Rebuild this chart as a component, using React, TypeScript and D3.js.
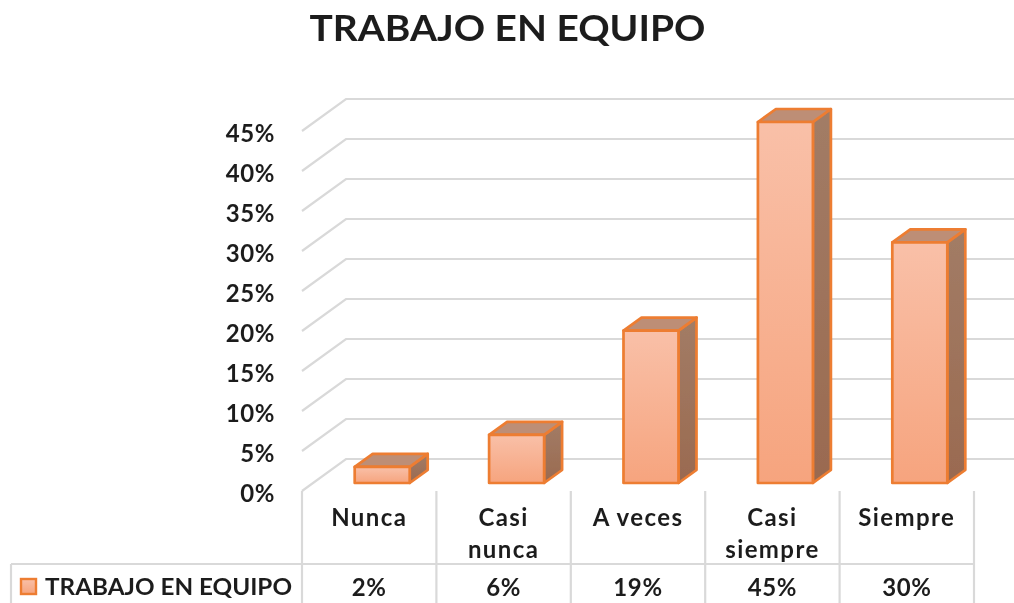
import React from 'react';
import * as d3 from 'd3';

const title = 'TRABAJO EN EQUIPO';
const categories = ['Nunca', 'Casi nunca', 'A veces', 'Casi siempre', 'Siempre'];
const categoryLines = [['Nunca'], ['Casi', 'nunca'], ['A veces'], ['Casi', 'siempre'], ['Siempre']];
const values = [2, 6, 19, 45, 30];
const yTicks = [0, 5, 10, 15, 20, 25, 30, 35, 40, 45];
const seriesName = 'TRABAJO EN EQUIPO';

const font = 'Lato, "Open Sans", sans-serif';
const grid = '#d9d9d9';
const ink = '#1f1f1f';

export default function App() {
  const x = d3.scaleBand<string>().domain(categories).range([302, 974]);
  const yBack = d3.scaleLinear().domain([0, 45]).range([459, 99]);
  const yBar = d3.scaleLinear().domain([0, 45]).range([483, 122]);
  const wallDx = 44, wallDy = 32, barW = 55, depthX = 18, depthY = 13;
  return (
    <svg width={1014} height={603} style={{ position: 'absolute', left: 0, top: 0, background: '#fff' }}>
      <defs>
        <linearGradient id="front" x1="0" y1="0" x2="0" y2="1">
          <stop offset="0" stopColor="#f9c0a8" />
          <stop offset="1" stopColor="#f6a47e" />
        </linearGradient>
        <linearGradient id="side" x1="0" y1="0" x2="0" y2="1">
          <stop offset="0" stopColor="#a27c66" />
          <stop offset="1" stopColor="#9a6a50" />
        </linearGradient>
        <linearGradient id="key" x1="0" y1="0" x2="0" y2="1">
          <stop offset="0" stopColor="#f9c0a8" />
          <stop offset="1" stopColor="#f6a47e" />
        </linearGradient>
        <filter id="soft" x="-5%" y="-5%" width="110%" height="110%">
          <feGaussianBlur stdDeviation="0.55" />
        </filter>
      </defs>
      <g filter="url(#soft)">
        <text x={507.5} y={41} textAnchor="middle" fontFamily={font} fontWeight={700} fontSize={37} fill={ink} textLength={396} lengthAdjust="spacingAndGlyphs">{title}</text>

        {yTicks.map(t => (
          <g key={t}>
            <polyline
              points={`${346 - wallDx},${yBack(t) + wallDy} 346,${yBack(t)} 1014,${yBack(t)}`}
              fill="none" stroke={grid} strokeWidth={2.2}
            />
            <text x={275} y={yBack(t) + wallDy + 11} textAnchor="end" fontFamily={font} fontWeight={700} fontSize={24} letterSpacing={0.6} fill={ink}>{t}%</text>
          </g>
        ))}

        {categories.map((c) => (
          <line key={c} x1={x(c)!} x2={x(c)!} y1={491} y2={603} stroke={grid} strokeWidth={2.2} />
        ))}
        <line x1={974} x2={974} y1={491} y2={603} stroke={grid} strokeWidth={2.2} />
        <line x1={11} x2={974} y1={564} y2={564} stroke={grid} strokeWidth={2.2} />
        <line x1={11} x2={11} y1={564} y2={603} stroke={grid} strokeWidth={2.2} />

        {categories.map((c, i) => {
          const cx = x(c)! + x.bandwidth() / 2;
          const l = cx - 14.5, r = l + barW, base = yBar(0), top = yBar(values[i]);
          return (
            <g key={c} stroke="#ed7d31" strokeWidth={2.7} strokeLinejoin="round">
              <path d={`M${r},${base}L${r + depthX},${base - depthY}L${r + depthX},${top - depthY}L${r},${top}Z`} fill="url(#side)" />
              <path d={`M${l},${top}L${l + depthX},${top - depthY}L${r + depthX},${top - depthY}L${r},${top}Z`} fill="#bd8e76" />
              <rect x={l} y={top} width={barW} height={base - top} fill="url(#front)" />
            </g>
          );
        })}

        {categories.map((c, i) => {
          const cx = x(c)! + x.bandwidth() / 2;
          return (
            <g key={c}>
              {categoryLines[i].map((line, j) => (
                <text key={line} x={cx} y={526 + j * 32} textAnchor="middle" fontFamily={font} fontWeight={700} fontSize={24} letterSpacing={1.4} fill={ink}>{line}</text>
              ))}
              <text x={cx} y={596} textAnchor="middle" fontFamily={font} fontWeight={700} fontSize={24} letterSpacing={0.6} fill={ink}>{values[i]}%</text>
            </g>
          );
        })}

        <rect x={21} y={579} width={15} height={15} fill="url(#key)" stroke="#ed7d31" strokeWidth={2.4} />
        <text x={45} y={595} fontFamily={font} fontWeight={700} fontSize={22} fill={ink} textLength={247} lengthAdjust="spacingAndGlyphs">{seriesName}</text>
      </g>
    </svg>
  );
}
